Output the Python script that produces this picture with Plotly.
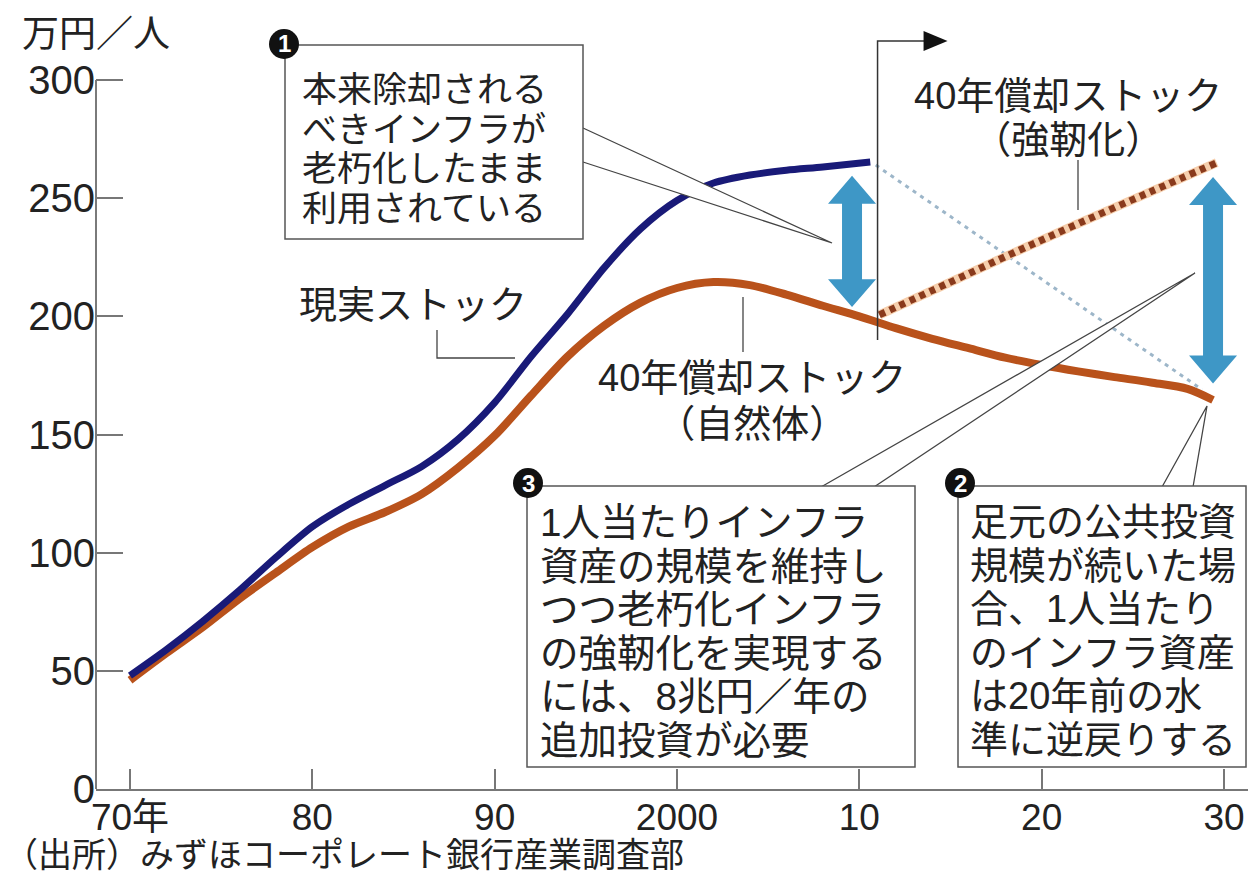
import numpy as np
import plotly.graph_objects as go

# ---------------- data ----------------
real_years = [1970, 1972, 1974, 1976, 1978, 1980, 1982, 1984, 1986, 1988, 1990,
              1992, 1994, 1996, 1998, 2000, 2002, 2004, 2006, 2008, 2010.6]
real_vals = [48, 59, 71, 84, 98, 111, 120.5, 128.5, 136.5, 148, 163.5,
             183, 201, 220.5, 237, 249, 256.4, 259.8, 261.8, 263.2, 265.3]

nat_years = [1970, 1972, 1974, 1976, 1978, 1980, 1982, 1984, 1986, 1988, 1990,
             1992, 1994, 1996, 1998, 2000, 2002, 2004, 2006, 2008, 2010,
             2012, 2014, 2016, 2018, 2020, 2022, 2024, 2026, 2028, 2029.4]
nat_vals = [46, 57.5, 68.5, 80.5, 91.5, 102.3, 111, 117.2, 124.8, 136, 149.5,
            166.5, 183, 196, 205.8, 212, 214.5, 213.2, 209.2, 204.5, 200,
            195, 190.5, 186.5, 182.5, 179.4, 176.7, 174.3, 172, 169.3, 164.6]

strong_years = [2011.1, 2015, 2018.5, 2022, 2026, 2029.6]
strong_vals = [200.6, 214.5, 227.0, 239.2, 252.8, 265.0]

proj_years = [2010.9, 2028.8]
proj_vals = [264.0, 169.0]

x_tickvals = [1970, 1980, 1990, 2000, 2010, 2020, 2030]
x_ticktext = ["70年", "80", "90", "2000", "10", "20", "30"]
y_tickvals = [0, 50, 100, 150, 200, 250, 300]

# ---------------- geometry ----------------
W, H = 1252, 881
ML, MR, MT, MB = 96, 4, 40, 92
PW, PH = W - ML - MR, H - MT - MB
PX_PER_YEAR = 18.233
PX_PER_UNIT = 2.3633
x0 = 1970 - (130 - ML) / PX_PER_YEAR
x1 = 1970 + (W - MR - 130) / PX_PER_YEAR
y1 = PH / PX_PER_UNIT


def PX(px):
    return (px - ML) / PW


def PY(py):
    return (H - MB - py) / PH


def xpix(year):
    return ML + (year - x0) / (x1 - x0) * PW


def ypix(v):
    return H - MB - v / y1 * PH


NUM_FONT = "Liberation Sans Narrow, Liberation Sans, Noto Sans CJK JP"
JP_FONT = "Liberation Sans, Noto Sans CJK JP"
TXT = "#222222"

fig = go.Figure()

# blue projection (dashed)
fig.add_trace(go.Scatter(x=proj_years, y=proj_vals, mode="lines",
                         line=dict(color="#9db6c9", width=3, dash="4px,5px"),
                         hoverinfo="skip"))
# 40-year depreciation stock (natural)
fig.add_trace(go.Scatter(x=nat_years, y=nat_vals, mode="lines",
                         line=dict(color="#b9521b", width=8, shape="spline", smoothing=0.8),
                         hoverinfo="skip"))
# real stock
fig.add_trace(go.Scatter(x=real_years, y=real_vals, mode="lines",
                         line=dict(color="#191a78", width=7, shape="spline", smoothing=0.8),
                         hoverinfo="skip"))
# strengthened (dotted)
fig.add_trace(go.Scatter(x=strong_years, y=strong_vals, mode="lines",
                         line=dict(color="#f6cfad", width=9, shape="spline"),
                         hoverinfo="skip"))
fig.add_trace(go.Scatter(x=strong_years, y=strong_vals, mode="lines",
                         line=dict(color="#8a3a1c", width=7, dash="6px,5px", shape="spline"),
                         hoverinfo="skip"))

shapes = []
annotations = []

# y axis line (0..300)
shapes.append(dict(type="line", xref="paper", yref="y", x0=0, x1=0, y0=0, y1=300,
                   line=dict(color="#7a7a7a", width=2)))

# double arrows showing gaps
ARROW_COLOR = "#3e97c6"


def double_arrow(cx, ytop, ybot, hw=24, hh=28, sw=10):
    pts = [(cx, ytop), (cx + hw, ytop + hh), (cx + sw, ytop + hh), (cx + sw, ybot - hh),
           (cx + hw, ybot - hh), (cx, ybot), (cx - hw, ybot - hh), (cx - sw, ybot - hh),
           (cx - sw, ytop + hh), (cx - hw, ytop + hh)]
    path = "M " + " L ".join(f"{PX(a):.5f},{PY(b):.5f}" for a, b in pts) + " Z"
    return dict(type="path", xref="paper", yref="paper", path=path,
                fillcolor=ARROW_COLOR, line=dict(width=0), layer="above")


gap1_year = 2009.6
top1 = np.interp(gap1_year, real_years, real_vals) - 5
bot1 = np.interp(gap1_year, nat_years, nat_vals) + 3
shapes.append(double_arrow(xpix(gap1_year), ypix(top1), ypix(bot1)))
gap2_year = nat_years[-1]
top2 = strong_vals[-1] - 6
bot2 = nat_vals[-1] + 7
shapes.append(double_arrow(xpix(gap2_year), ypix(top2), ypix(bot2)))

# "now" marker line with arrow
now_x = xpix(strong_years[0] - 0.1)
LINE_C = "#333333"
shapes.append(dict(type="path", xref="paper", yref="paper",
                   path=f"M {PX(now_x)},{PY(340)} L {PX(now_x)},{PY(41)} L {PX(now_x + 50)},{PY(41)}",
                   line=dict(color=LINE_C, width=1.5), layer="above"))
shapes.append(dict(type="path", xref="paper", yref="paper",
                   path=f"M {PX(now_x + 46)},{PY(31)} L {PX(now_x + 70)},{PY(41)} L {PX(now_x + 46)},{PY(51)} Z",
                   fillcolor="#111111", line=dict(width=0), layer="above"))


def wedge(a, tip, b):
    path = f"M {PX(a[0])},{PY(a[1])} L {PX(tip[0])},{PY(tip[1])} L {PX(b[0])},{PY(b[1])}"
    return dict(type="path", xref="paper", yref="paper", path=path,
                fillcolor="white", line=dict(color="#444444", width=1.3), layer="above")


def box(xa, ya, xb, yb):
    return dict(type="rect", xref="paper", yref="paper", x0=PX(xa), x1=PX(xb),
                y0=PY(yb), y1=PY(ya), fillcolor="white",
                line=dict(color="#555555", width=1.5), layer="above")


# callout wedges
shapes.append(wedge((583, 128), (832, 243), (583, 162)))
shapes.append(wedge((821, 487), (1195, 273), (874, 487)))
shapes.append(wedge((1162, 487), (1207, 406), (1193, 487)))

# boxes
shapes.append(box(285, 45, 583, 239))
shapes.append(box(527, 486, 915, 767))
shapes.append(box(958, 486, 1246, 767))

# circled numbers
for (cx, cy, n) in [(284, 44, "1"), (528, 483, "3"), (960, 483, "2")]:
    r = 15
    shapes.append(dict(type="circle", xref="paper", yref="paper",
                       x0=PX(cx - r), x1=PX(cx + r), y0=PY(cy + r), y1=PY(cy - r),
                       fillcolor="#111111", line=dict(width=0), layer="above"))
    annotations.append(dict(x=PX(cx), y=PY(cy), xref="paper", yref="paper", text=f"<b>{n}</b>",
                            showarrow=False, xanchor="center", yanchor="middle",
                            font=dict(family="Liberation Sans", size=24, color="white")))

# leader lines
for pts in [[(437, 330), (437, 358), (515, 358)],
            [(743, 297), (743, 352)],
            [(1078, 160), (1078, 210)]]:
    path = "M " + " L ".join(f"{PX(a)},{PY(b)}" for a, b in pts)
    shapes.append(dict(type="path", xref="paper", yref="paper", path=path,
                       line=dict(color="#444444", width=1.3), layer="above"))


def block(px, py_center, rows, glyph, step, anchor="left"):
    """One annotation; line pitch = 1.3 * base font, glyphs drawn at `glyph` px."""
    base = step / 1.3
    txt = "<br>".join(f"<span style='font-size:{glyph}px'>{r}</span>" for r in rows)
    annotations.append(dict(x=PX(px), y=PY(py_center), xref="paper", yref="paper", text=txt,
                            showarrow=False, xanchor=anchor, yanchor="middle", align=anchor,
                            font=dict(family=JP_FONT, size=base, color=TXT)))


def text(px, py, s, size, anchor="left"):
    annotations.append(dict(x=PX(px), y=PY(py), xref="paper", yref="paper", text=s,
                            showarrow=False, xanchor=anchor, yanchor="middle",
                            font=dict(family=JP_FONT, size=size, color=TXT)))


text(20, 35, "万円／人", 37)
block(300, 149, ["本来除却される", "べきインフラが", "老朽化したまま", "利用されている"], 35, 39.5)
block(538, 631, ["1人当たりインフラ", "資産の規模を維持し", "つつ老朽化インフラ",
                 "の強靭化を実現する", "には、8兆円／年の", "追加投資が必要"], 38.5, 43.5)
block(968, 631, ["足元の公共投資", "規模が続いた場", "合、1人当たり",
                 "のインフラ資産", "は20年前の水", "準に逆戻りする"], 38, 43.5)
text(297, 305, "現実ストック", 38)
block(752, 401, ["40年償却ストック", "（自然体）"], 38, 46, "center")
block(1068, 118, ["40年償却ストック", "（強靭化）"], 38, 44, "center")
text(2, 855, "（出所）みずほコーポレート銀行産業調査部", 34)

fig.update_layout(
    width=W, height=H,
    margin=dict(l=ML, r=MR, t=MT, b=MB),
    paper_bgcolor="white", plot_bgcolor="white",
    showlegend=False,
    shapes=shapes, annotations=annotations,
    xaxis=dict(range=[x0, x1], tickvals=x_tickvals, ticktext=x_ticktext,
               ticks="inside", ticklen=20, tickwidth=1.5, tickcolor="#777777",
               showline=True, linecolor="#777777", linewidth=2,
               showgrid=False, zeroline=False, ticklabelstandoff=-5,
               tickfont=dict(family=NUM_FONT, size=37, color=TXT)),
    yaxis=dict(range=[0, y1], tickvals=y_tickvals,
               ticks="inside", ticklen=27, tickwidth=1.5, tickcolor="#777777",
               showline=False, showgrid=False, zeroline=False,
               tickfont=dict(family=NUM_FONT, size=40, color=TXT)),
)

fig.write_html("out.html")
